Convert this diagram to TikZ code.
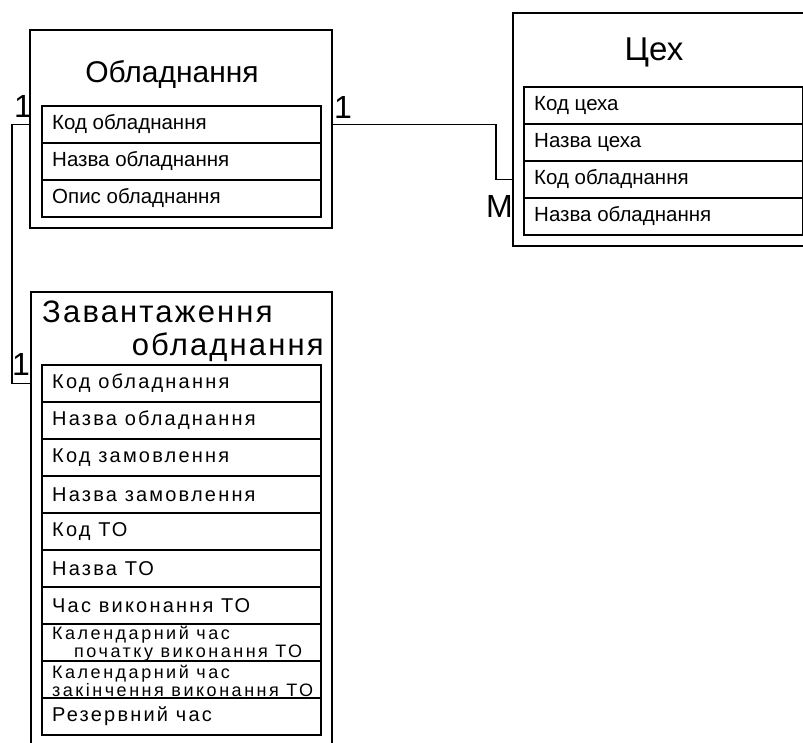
\documentclass[tikz,border=0pt]{standalone}
\usepackage{fontspec}
\setmainfont{Liberation Sans}
\usetikzlibrary{positioning}
\tikzset{
  % Entità e righe degli attributi
  entity/.style={draw, line width=1.4pt, inner sep=0pt, outer sep=0pt},
  attr/.style={draw, line width=1.2pt, minimum width=279pt, minimum height=37pt, inner sep=0pt, outer sep=0pt},
  attr text/.style={anchor=west, xshift=10pt, inner sep=0pt, font=\fontsize{20.5}{21}\selectfont},
  attr wide/.style={attr text, font=\fontsize{20}{21}\selectfont\addfontfeatures{LetterSpace=11}},
  attr small/.style={attr text, align=left, yshift=-1.5pt, font=\fontsize{18}{18}\selectfont\addfontfeatures{LetterSpace=14}},
  % Titoli e cardinalità
  title/.style={inner sep=0pt, font=\fontsize{30}{32}\selectfont},
  title wide/.style={inner sep=0pt, font=\fontsize{31}{32}\selectfont\addfontfeatures{LetterSpace=7}},
  card/.style={inner sep=0pt, anchor=base west, font=\fontsize{32}{32}\selectfont},
  % Connessioni
  link/.style={line width=1.4pt}
}
\begin{document}
\begin{tikzpicture}[x=1pt, y=-1pt]
  \useasboundingbox (0,0) rectangle (803,742);
  \clip (0,0) rectangle (803,742);
  \node[entity, minimum width=302pt, minimum height=198pt] (obl) at (181,129) {};
  \node[title, anchor=base] (obl title) at (172,82) {Обладнання};
  \node[attr, anchor=north west, label={[attr text]west:Код обладнання}] (o1) at (42,106) {};
  \node[attr, below=0pt of o1, label={[attr text]west:Назва обладнання}] (o2) {};
  \node[attr, below=0pt of o2, label={[attr text]west:Опис обладнання}] (o3) {};

  \node[entity, minimum width=300pt, minimum height=233pt] (ceh) at (663,129.5) {};
  \node[title, anchor=base, font=\fontsize{33}{34}\selectfont] (ceh title) at (654,60) {Цех};
  \node[attr, anchor=north west, label={[attr text]west:Код цеха}] (c1) at (524,87) {};
  \node[attr, below=0pt of c1, label={[attr text]west:Назва цеха}] (c2) {};
  \node[attr, below=0pt of c2, label={[attr text]west:Код обладнання}] (c3) {};
  \node[attr, below=0pt of c3, label={[attr text]west:Назва обладнання}] (c4) {};

  \node[entity, minimum width=301pt, minimum height=468pt] (zav) at (181.5,526) {};
  \node[title wide, anchor=base west] (zav title1) at (42,322) {Завантаження};
  \node[title wide, anchor=base east] (zav title2) at (324,355) {обладнання};
  \node[attr, anchor=north west, label={[attr wide]west:Код обладнання}] (z1) at (42,365) {};
  \node[attr, below=0pt of z1, label={[attr wide]west:Назва обладнання}] (z2) {};
  \node[attr, below=0pt of z2, label={[attr wide]west:Код замовлення}] (z3) {};
  \node[attr, below=0pt of z3, label={[attr wide]west:Назва замовлення}] (z4) {};
  \node[attr, below=0pt of z4, label={[attr wide]west:Код ТО}] (z5) {};
  \node[attr, below=0pt of z5, label={[attr wide]west:Назва ТО}] (z6) {};
  \node[attr, below=0pt of z6, label={[attr wide]west:Час виконання ТО}] (z7) {};
  \node[attr, below=0pt of z7, label={[attr small]west:Календарний час\\\hspace*{22pt}початку виконання ТО}] (z8) {};
  \node[attr, below=0pt of z8, label={[attr small]west:Календарний час\\закінчення виконання ТО}] (z9) {};
  \node[attr, below=0pt of z9, label={[attr wide]west:Резервний час}] (z10) {};

  \draw[link] (o1 -| obl.east) -- ++(164,0) |- (c3 -| ceh.west);
  \draw[link] (o1 -| obl.west) -- ++(-18,0) |- (z1 -| zav.west);
  \node[card] (k1) at (334,118) {1};
  \node[card] (k2) at (486,217) {M};
  \node[card] (k3) at (14,117) {1};
  \node[card] (k4) at (12,375) {1};
\end{tikzpicture}
\end{document}
